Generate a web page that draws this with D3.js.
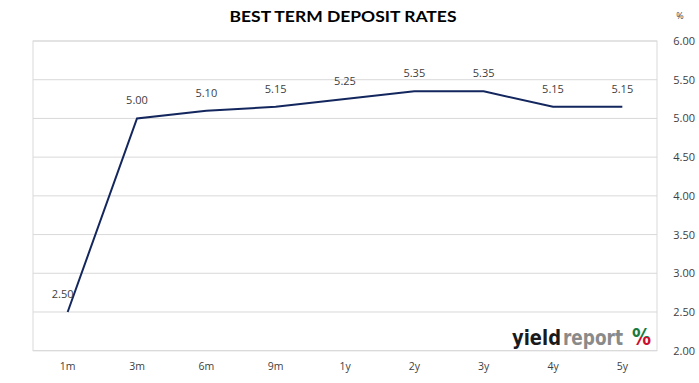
<!DOCTYPE html>
<html><head><meta charset="utf-8">
<script src="https://cdn.jsdelivr.net/npm/d3@7"></script>
<style>body{margin:0;background:#fff;}svg{display:block;}</style>
</head><body>
<svg id="c" width="699" height="383"></svg>
<script>
const categories = ["1m","3m","6m","9m","1y","2y","3y","4y","5y"];
const rates = [2.50,5.00,5.10,5.15,5.25,5.35,5.35,5.15,5.15];
const yTicks = [2.00,2.50,3.00,3.50,4.00,4.50,5.00,5.50,6.00];
const title = "BEST TERM DEPOSIT RATES";

const svg = d3.select("#c");
const m = {l:33, r:657, t:41, b:350.7};
const x = d3.scaleBand().domain(categories).range([m.l, m.r]);
const y = d3.scaleLinear().domain([2,6]).range([m.b, m.t]);
const font = "'Open Sans', 'DejaVu Sans', sans-serif";

// gridlines
svg.append("g").selectAll("line").data(yTicks).join("line")
  .attr("x1", m.l).attr("x2", m.r)
  .attr("y1", d=>y(d)).attr("y2", d=>y(d))
  .attr("stroke", "#d9d9d9").attr("stroke-width", 1);
// border
svg.append("rect").attr("x", m.l).attr("y", m.t).attr("width", m.r-m.l).attr("height", m.b-m.t)
  .attr("fill","none").attr("stroke","#d9d9d9").attr("stroke-width",1);

// right axis labels
const ya = d3.axisRight(y).tickValues(yTicks).tickFormat(d3.format(".2f")).tickSize(0).tickPadding(0);
const yg = svg.append("g").attr("transform", `translate(${m.r+38},0)`).call(ya);
yg.select(".domain").remove();
yg.selectAll("text").attr("text-anchor","end").attr("font-family",font).attr("font-size",11).attr("fill","#404040");

// x axis labels
const xa = d3.axisBottom(x).tickSize(0).tickPadding(0);
const xg = svg.append("g").attr("transform", `translate(0,${m.b+12})`).call(xa);
xg.select(".domain").remove();
xg.selectAll("text").attr("font-family",font).attr("font-size",10.5).attr("fill","#404040");

// line
const cx = d => x(d) + x.bandwidth()/2;
const line = d3.line().x((d,i)=>cx(categories[i])).y(d=>y(d));
svg.append("path").datum(rates).attr("d", line)
  .attr("fill","none").attr("stroke","#13275e").attr("stroke-width",2);

// data labels
svg.append("g").selectAll("text").data(rates).join("text")
  .attr("x",(d,i)=>cx(categories[i]) - (i===0?5:0))
  .attr("y",d=>y(d)-14)
  .attr("text-anchor","middle")
  .attr("font-family",font).attr("font-size",11).attr("fill","#404040")
  .text(d=>d3.format(".2f")(d));

// title
svg.append("text").attr("x",343).attr("y",22).attr("text-anchor","middle")
  .attr("font-family","Lato, 'Open Sans', sans-serif").attr("font-weight","bold").attr("font-size",15.5)
  .attr("fill","#000").attr("textLength",227).attr("lengthAdjust","spacingAndGlyphs")
  .text(title);
// % unit
svg.append("text").attr("x",680).attr("y",19).attr("text-anchor","middle")
  .attr("font-family",font).attr("font-size",9).attr("fill","#404040").text("%");

// logo
const logoFont = "'DejaVu Sans', sans-serif";
const lg = svg.append("g").attr("transform","translate(0,345) scale(1,1.2)");
lg.append("text").attr("x",512).attr("y",0)
  .attr("font-family",logoFont).attr("font-weight","bold").attr("font-size",17.5)
  .attr("fill","#1a1a1a").attr("textLength",49).attr("lengthAdjust","spacingAndGlyphs").text("yield");
lg.append("text").attr("x",563).attr("y",0)
  .attr("font-family",logoFont).attr("font-weight","bold").attr("font-size",17)
  .attr("fill","#8a8a8a").attr("textLength",60).attr("lengthAdjust","spacingAndGlyphs").text("report");
const defs = svg.append("defs");
const g = defs.append("linearGradient").attr("id","pg").attr("x1",0).attr("y1",0).attr("x2",0).attr("y2",1);
g.append("stop").attr("offset","50%").attr("stop-color","#1e7a3c");
g.append("stop").attr("offset","50%").attr("stop-color","#c8102e");
lg.append("text").attr("x",632).attr("y",0)
  .attr("font-family",logoFont).attr("font-weight","bold").attr("font-size",19)
  .attr("fill","url(#pg)").text("%");
</script>
</body></html>
